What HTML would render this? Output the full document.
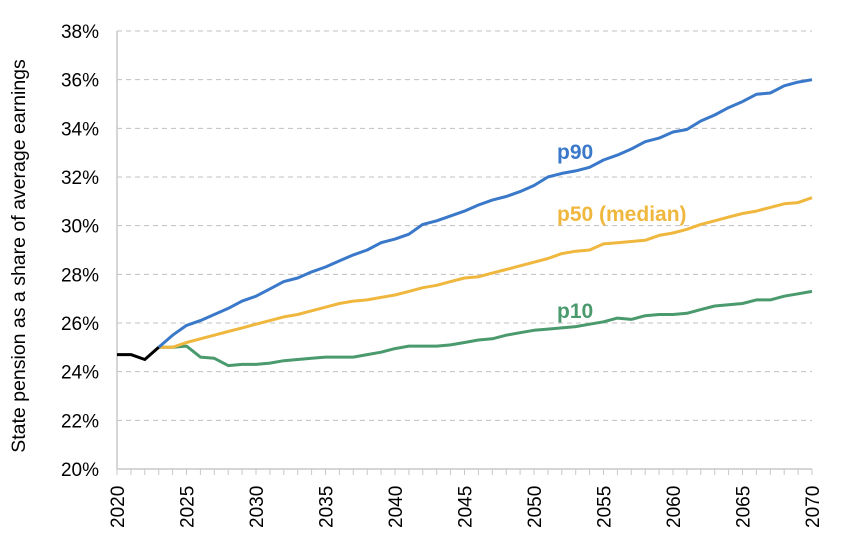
<!DOCTYPE html>
<html><head><meta charset="utf-8"><style>
body{margin:0;background:#fff}
svg{display:block;font-family:"Liberation Sans",Arial,sans-serif}
</style></head><body>
<svg id="s" width="848" height="553" xmlns="http://www.w3.org/2000/svg"></svg>
<script>
var s=document.getElementById('s');
var X0=117,X1=812,Y0=469,Y1=31;
function x(y){return X0+(y-2020)*(X1-X0)/50;}
function yy(v){return Y0-(v-20)*(Y0-Y1)/18;}
var h='';
for(var v=22;v<=38;v+=2){h+='<line x1="'+X0+'" x2="'+X1+'" y1="'+yy(v)+'" y2="'+yy(v)+'" stroke="#c0c0c0" stroke-width="1" stroke-dasharray="5,4"/>';}
for(var v=20;v<=38;v+=2){h+='<text x="99" y="'+(yy(v)+7)+'" font-size="19" text-anchor="end" fill="#000">'+v+'%</text>';}
h+='<line x1="'+X0+'" x2="'+X0+'" y1="'+Y1+'" y2="'+Y0+'" stroke="#c8c8c8" stroke-width="1.5"/>';
h+='<line x1="'+X0+'" x2="'+X1+'" y1="'+Y0+'" y2="'+Y0+'" stroke="#c8c8c8" stroke-width="1.5"/>';
for(var y=2020;y<=2070;y++){h+='<line x1="'+x(y)+'" x2="'+x(y)+'" y1="'+Y0+'" y2="'+(Y0+6)+'" stroke="#c8c8c8" stroke-width="1"/>';}
for(var y=2020;y<=2070;y+=5){h+='<text transform="translate('+(x(y)+7)+',528) rotate(-90)" font-size="19" fill="#000">'+y+'</text>';}
h+='<text transform="translate(25,256) rotate(-90)" font-size="19.5" text-anchor="middle" fill="#000">State pension as a share of average earnings</text>';
function line(start,d,c){var p=[];for(var i=0;i<d.length;i++)p.push(x(start+i).toFixed(1)+','+yy(d[i]).toFixed(1));return '<polyline points="'+p.join(' ')+'" fill="none" stroke="'+c+'" stroke-width="3" stroke-linejoin="round"/>';}
var p90=[25.0,25.5,25.9,26.1,26.35,26.6,26.9,27.1,27.4,27.7,27.85,28.1,28.3,28.55,28.8,29.0,29.3,29.45,29.65,30.05,30.2,30.4,30.6,30.85,31.05,31.2,31.4,31.65,32.0,32.15,32.25,32.4,32.7,32.9,33.15,33.45,33.6,33.85,33.95,34.3,34.55,34.85,35.1,35.4,35.45,35.75,35.9,36.0];
var p50=[25.0,25.0,25.2,25.35,25.5,25.65,25.8,25.95,26.1,26.25,26.35,26.5,26.65,26.8,26.9,26.95,27.05,27.15,27.3,27.45,27.55,27.7,27.85,27.9,28.05,28.2,28.35,28.5,28.65,28.85,28.95,29.0,29.25,29.3,29.35,29.4,29.6,29.7,29.85,30.05,30.2,30.35,30.5,30.6,30.75,30.9,30.95,31.15];
var p10=[25.0,25.0,25.05,24.6,24.55,24.25,24.3,24.3,24.35,24.45,24.5,24.55,24.6,24.6,24.6,24.7,24.8,24.95,25.05,25.05,25.05,25.1,25.2,25.3,25.35,25.5,25.6,25.7,25.75,25.8,25.85,25.95,26.05,26.2,26.15,26.3,26.35,26.35,26.4,26.55,26.7,26.75,26.8,26.95,26.95,27.1,27.2,27.3];
h+=line(2023,p10,'#4a9a6e');
h+=line(2023,p50,'#f0b73e');
h+=line(2023,p90,'#3a78c9');
h+=line(2020,[24.7,24.7,24.5,25.0],'#000');
h+='<text x="557" y="159" font-size="21" font-weight="bold" fill="#3a78c9">p90</text>';
h+='<text x="557" y="221" font-size="21" font-weight="bold" fill="#f0b73e">p50 (median)</text>';
h+='<text x="557" y="318" font-size="21" font-weight="bold" fill="#4a9a6e">p10</text>';
s.innerHTML=h;
</script>
</body></html>
